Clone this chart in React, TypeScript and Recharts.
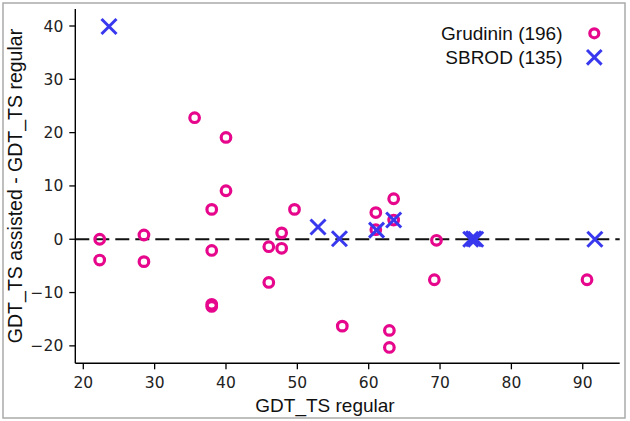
import React from "react";
import {
  ScatterChart,
  Scatter,
  XAxis,
  YAxis,
  ReferenceLine,
} from "recharts";

const grudininX = [35.6, 40.0, 40.0, 22.3, 22.3, 28.5, 28.5, 38.0, 38.0, 38.0, 38.0, 46.0, 46.0, 47.8, 47.8, 49.6, 61.0, 61.0, 63.5, 63.5, 69.5, 69.2, 56.3, 62.9, 62.9, 90.6];
const grudininY = [22.8, 19.1, 9.1, 0.0, -3.9, 0.8, -4.2, 5.6, -2.1, -12.2, -12.6, -1.4, -8.1, 1.2, -1.7, 5.6, 5.0, 1.8, 7.6, 3.6, -0.2, -7.6, -16.3, -17.1, -20.3, -7.6];
const sbrodX = [23.6, 52.9, 55.9, 61.1, 63.5, 74.3, 74.7, 75.0, 91.7];
const sbrodY = [39.9, 2.3, 0.1, 1.7, 3.6, 0.0, 0.1, 0.0, 0.0];

const xTicks = [20, 30, 40, 50, 60, 70, 80, 90];
const yTicks = [-20, -10, 0, 10, 20, 30, 40];
const seriesNames = ["Grudinin (196)", "SBROD (135)"];
const xLabel = "GDT_TS regular";
const yLabel = "GDT_TS assisted - GDT_TS regular";

const grudinin = grudininX.map((x, i) => ({ x, y: grudininY[i] }));
const sbrod = sbrodX.map((x, i) => ({ x, y: sbrodY[i] }));

const PINK = "#e6078c";
const BLUE = "#3838ee";
const XDOM: [number, number] = [18.88, 95.18];
const YDOM: [number, number] = [-23.27, 43.19];

const Circle = (p: any) => (
  <circle cx={p.cx} cy={p.cy} r={4.8} fill="none" stroke={PINK} strokeWidth={3.2} />
);
const Cross = (p: any) => {
  const s = 7.5;
  return (
    <g stroke={BLUE} strokeWidth={3}>
      <line x1={p.cx - s} y1={p.cy - s} x2={p.cx + s} y2={p.cy + s} />
      <line x1={p.cx - s} y1={p.cy + s} x2={p.cx + s} y2={p.cy - s} />
    </g>
  );
};

const tickFont = { fontFamily: "DejaVu Sans", fontSize: 15.5, fill: "#222" };
const labelFont = "Liberation Sans, Arial, sans-serif";

export default function App() {
  return (
    <div style={{ position: "absolute", left: 0, top: 0, width: 630, height: 421, background: "#fff" }}>
      <ScatterChart
        width={630}
        height={421}
        margin={{ top: 9, right: 10.3, left: 0, bottom: 0 }}
      >
        <XAxis
          type="number"
          dataKey="x"
          domain={XDOM}
          allowDataOverflow
          ticks={xTicks}
          interval={0}
          height={57.7}
          tickSize={6}
          tickMargin={7.4}
          tick={tickFont}
          axisLine={{ stroke: "#000", strokeWidth: 1.4 }}
          tickLine={{ stroke: "#000", strokeWidth: 1.3 }}
        />
        <XAxis
          xAxisId="top"
          orientation="top"
          type="number"
          dataKey="x"
          domain={XDOM}
          allowDataOverflow
          height={0}
          tick={false}
          tickLine={false}
          axisLine={{ stroke: "#000", strokeWidth: 1.4 }}
        />
        <YAxis
          type="number"
          dataKey="y"
          domain={YDOM}
          allowDataOverflow
          ticks={yTicks}
          interval={0}
          width={75.3}
          tickSize={6}
          tickMargin={6}
          tick={tickFont}
          tickFormatter={(v: number) => (v < 0 ? "\u2212" + Math.abs(v) : String(v))}
          axisLine={{ stroke: "#000", strokeWidth: 1.4 }}
          tickLine={{ stroke: "#000", strokeWidth: 1.3 }}
        />
        <YAxis
          yAxisId="right"
          orientation="right"
          type="number"
          dataKey="y"
          domain={YDOM}
          allowDataOverflow
          width={0}
          tick={false}
          tickLine={false}
          axisLine={{ stroke: "#000", strokeWidth: 1.4 }}
        />
        <ReferenceLine y={0} stroke="#111" strokeWidth={2} strokeDasharray="14 6" />
        <Scatter name={seriesNames[0]} data={grudinin} shape={Circle} isAnimationActive={false} />
        <Scatter name={seriesNames[1]} data={sbrod} shape={Cross} isAnimationActive={false} />
      </ScatterChart>
      <svg
        width={630}
        height={421}
        style={{ position: "absolute", left: 0, top: 0, pointerEvents: "none" }}
      >
        <rect x={3} y={3} width={622} height={415} fill="none" stroke="#aaa" strokeWidth={1.5} />
        <text x={562.5} y={40} textAnchor="end" fontFamily={labelFont} fontSize={19} fill="#111">
          {seriesNames[0]}
        </text>
        <text x={562.5} y={63.5} textAnchor="end" fontFamily={labelFont} fontSize={19} fill="#111">
          {seriesNames[1]}
        </text>
        <circle cx={594.3} cy={33.3} r={4.5} fill="none" stroke={PINK} strokeWidth={3.2} />
        <g stroke={BLUE} strokeWidth={3}>
          <line x1={587} y1={50} x2={601.6} y2={64.6} />
          <line x1={587} y1={64.6} x2={601.6} y2={50} />
        </g>
        <text x={325} y={412} textAnchor="middle" fontFamily={labelFont} fontSize={19} fill="#111">
          {xLabel}
        </text>
        <text
          x={0}
          y={0}
          transform="translate(21.6,186) rotate(-90)"
          textAnchor="middle"
          fontFamily={labelFont}
          fontSize={19.5}
          fill="#111"
        >
          {yLabel}
        </text>
      </svg>
    </div>
  );
}
